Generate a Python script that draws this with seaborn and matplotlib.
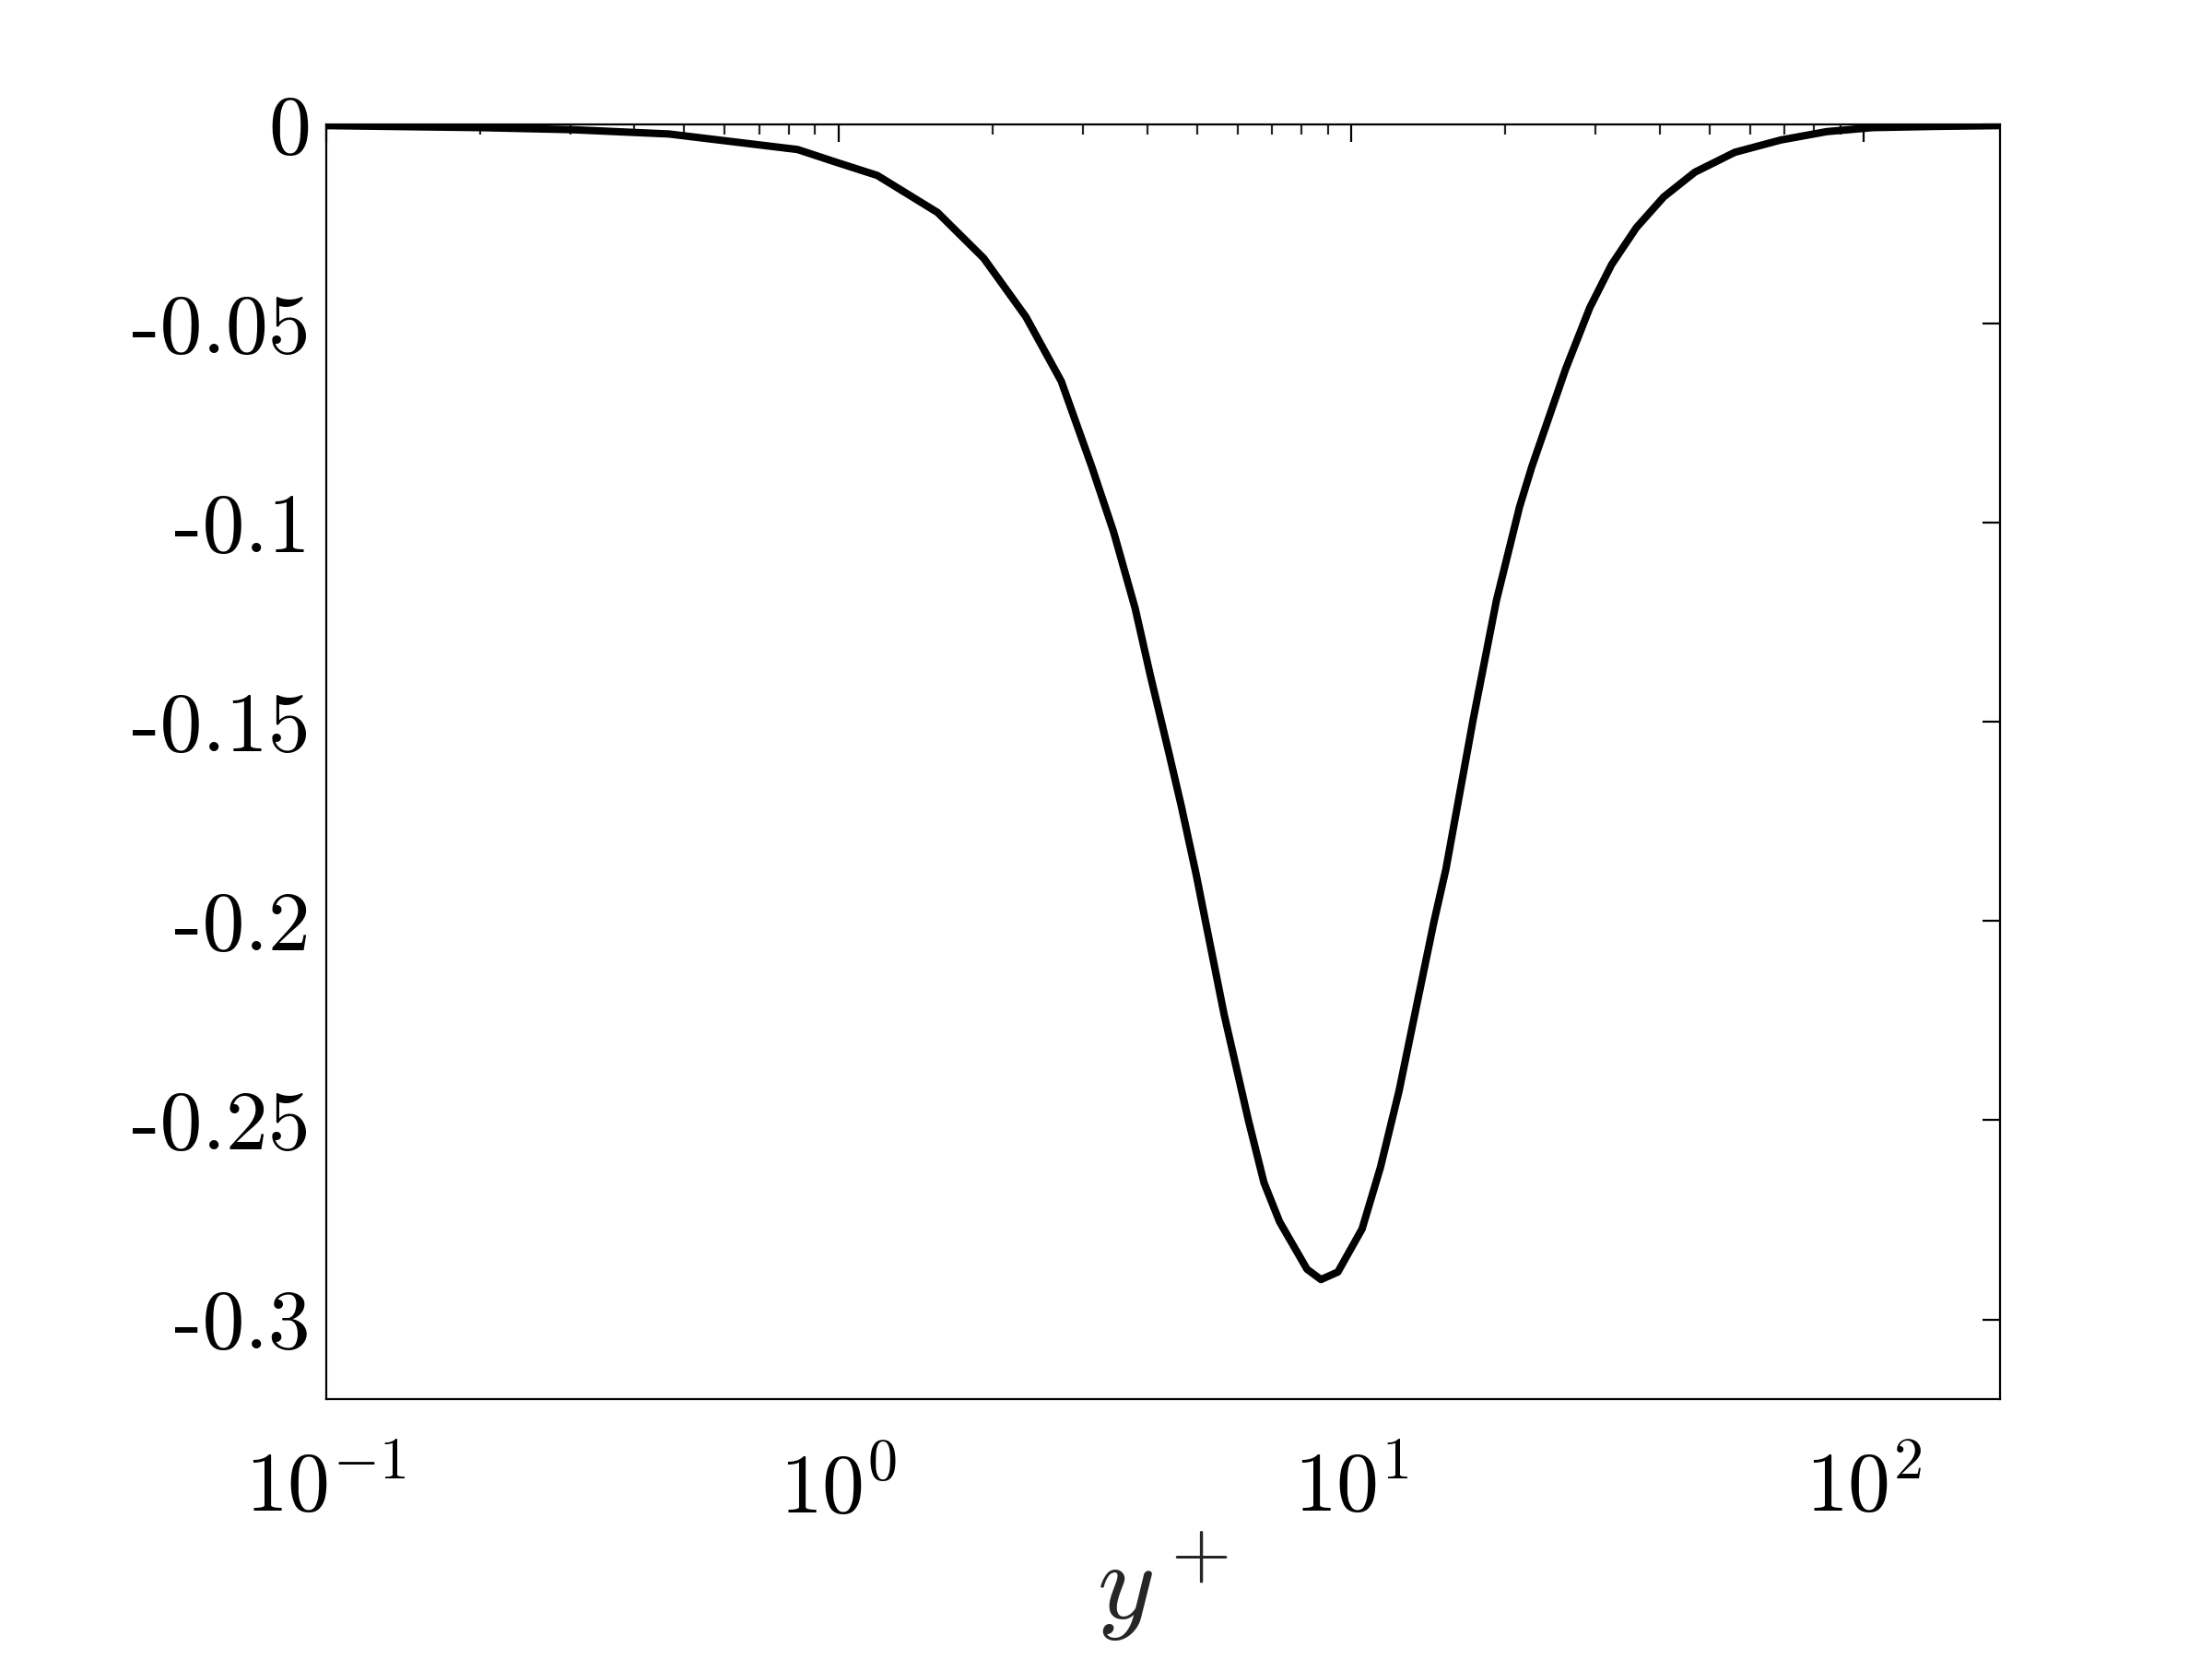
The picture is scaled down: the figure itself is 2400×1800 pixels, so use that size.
import numpy as np
import pandas as pd
import seaborn as sns
import matplotlib
matplotlib.use("Agg")
from matplotlib import pyplot as plt
from matplotlib.ticker import FixedLocator, FixedFormatter, LogLocator, NullFormatter

# values
yplus = [0.1, 0.2, 0.3, 0.467, 0.832, 0.99, 1.19, 1.56, 1.92, 2.32, 2.72, 3.12, 3.44,
         3.79, 4.06, 4.41, 4.66, 4.99, 5.20, 5.65, 6.31, 6.76, 7.25, 8.20, 8.73, 9.42,
         10.5, 11.4, 12.4, 13.5, 14.5, 15.3, 17.3, 19.2, 21.3, 22.5, 26.2, 29.2, 32.2,
         36.0, 40.7, 46.8, 56.0, 68.9, 84.7, 104, 137, 184]
value = [-0.0003, -0.0008, -0.0013, -0.0024, -0.0063, -0.0095, -0.0128, -0.0221, -0.0336,
         -0.0483, -0.0645, -0.0860, -0.1023, -0.1215, -0.1385, -0.1578, -0.1710, -0.1886,
         -0.2002, -0.2234, -0.2503, -0.2657, -0.2755, -0.2874, -0.2900, -0.2881, -0.2773,
         -0.2619, -0.2426, -0.2195, -0.2002, -0.1870, -0.1493, -0.1195, -0.0960, -0.0860,
         -0.0614, -0.0460, -0.0352, -0.0259, -0.0182, -0.0120, -0.0070, -0.0039, -0.0018,
         -0.0008, -0.0005, -0.0003]

yticks = [0, -0.05, -0.1, -0.15, -0.2, -0.25, -0.3]
yticklabels = ['0', '-0.05', '-0.1', '-0.15', '-0.2', '-0.25', '-0.3']
xticks = [0.1, 1, 10, 100]
xticklabels = [r'$10^{-1}$', r'$10^{0}$', r'$10^{1}$', r'$10^{2}$']

df = pd.DataFrame({'yplus': yplus, 'value': value})

sns.set_style("white")
plt.rcParams['font.family'] = ['cmr10', 'DejaVu Serif']
plt.rcParams['mathtext.fontset'] = 'cm'
plt.rcParams['axes.unicode_minus'] = False

fig = plt.figure(figsize=(12, 9), dpi=200)
ax = fig.add_axes([0.1473, 0.1567, 0.904 - 0.1473, 0.925 - 0.1567])

sns.lineplot(x='yplus', y='value', data=df, ax=ax, color='black', linewidth=2.9, sort=True)

ax.set_xscale('log')
ax.set_xlim(0.1, 184)
ax.set_ylim(-0.32, 0)

ax.xaxis.set_major_locator(FixedLocator(xticks))
ax.xaxis.set_major_formatter(FixedFormatter(xticklabels))
ax.xaxis.set_minor_locator(LogLocator(base=10, subs=np.arange(2, 10)))
ax.xaxis.set_minor_formatter(NullFormatter())
ax.yaxis.set_major_locator(FixedLocator(yticks))
ax.yaxis.set_major_formatter(FixedFormatter(yticklabels))

for s in ax.spines.values():
    s.set_linewidth(0.8)
    s.set_color('black')

ax.tick_params(which='major', direction='in', length=7, width=0.8, top=True, right=True,
               labelsize=33, colors='black')
ax.tick_params(which='minor', direction='in', length=4, width=0.8, top=True, right=True)
ax.tick_params(axis='x', which='major', pad=20)
ax.tick_params(axis='y', which='major', pad=6)

ax.set_xlabel(r'$y^+$', fontsize=43, labelpad=0)
ax.set_ylabel('')

fig.savefig('out.png', dpi=200, facecolor='white')
